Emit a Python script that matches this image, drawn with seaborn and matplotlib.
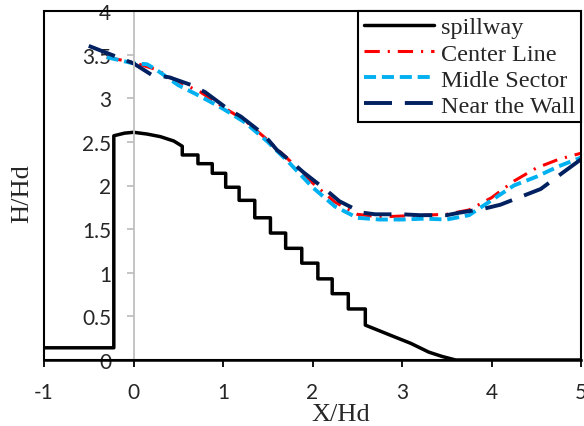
import numpy as np
import pandas as pd
import matplotlib
matplotlib.use("Agg")
import matplotlib.pyplot as plt
import seaborn as sns
from matplotlib.patches import Rectangle

# ---- data ----
spill_x = [-1, -0.22, -0.22, -0.1, 0, 0.15, 0.3, 0.45, 0.545, 0.545, 0.72, 0.72, 0.88, 0.88,
           1.03, 1.03, 1.18, 1.18, 1.355, 1.355, 1.53, 1.53, 1.70, 1.70, 1.88, 1.88, 2.06, 2.06,
           2.22, 2.22, 2.40, 2.40, 2.59, 2.59, 2.88, 3.1, 3.3, 3.45, 3.6, 5.0]
spill_h = [0.14, 0.14, 2.57, 2.60, 2.61, 2.59, 2.56, 2.51, 2.45, 2.35, 2.35, 2.25, 2.25, 2.14,
           2.14, 1.98, 1.98, 1.83, 1.83, 1.63, 1.63, 1.455, 1.455, 1.28, 1.28, 1.11, 1.11, 0.93,
           0.93, 0.76, 0.76, 0.585, 0.585, 0.40, 0.28, 0.19, 0.09, 0.04, 0.0, 0.0]

center_x = [-0.3, 0, 0.25, 0.5, 0.75, 1.0, 1.25, 1.5, 1.75, 2.0, 2.25, 2.5, 2.75, 3.0, 3.25,
            3.5, 3.75, 4.0, 4.25, 4.5, 4.75, 5.0]
center_h = [3.47, 3.41, 3.33, 3.19, 3.07, 2.90, 2.74, 2.52, 2.28, 2.03, 1.81, 1.67, 1.64, 1.65,
            1.66, 1.67, 1.72, 1.86, 2.05, 2.20, 2.30, 2.37]

midle_x = [-0.3, 0, 0.15, 0.25, 0.5, 0.75, 1.0, 1.25, 1.5, 1.75, 2.0, 2.25, 2.5, 2.75, 3.0,
           3.25, 3.5, 3.75, 4.0, 4.25, 4.5, 4.75, 5.0]
midle_h = [3.47, 3.40, 3.39, 3.33, 3.15, 3.02, 2.88, 2.72, 2.50, 2.25, 1.98, 1.76, 1.63, 1.61,
           1.61, 1.62, 1.61, 1.66, 1.83, 2.00, 2.10, 2.22, 2.32]

wall_x = [-0.5, -0.25, 0, 0.2, 0.4, 0.65, 0.8, 1.05, 1.2, 1.45, 1.6, 1.8, 1.9, 2.15, 2.3, 2.55,
          2.7, 3.0, 3.2, 3.5, 3.65, 3.9, 4.1, 4.4, 4.55, 4.8, 5.0]
wall_h = [3.60, 3.50, 3.40, 3.27, 3.24, 3.15, 3.07, 2.88, 2.79, 2.59, 2.41, 2.24, 2.15, 1.95,
          1.82, 1.69, 1.67, 1.67, 1.66, 1.66, 1.69, 1.73, 1.78, 1.90, 1.96, 2.15, 2.30]

x_ticks = [-1, 0, 1, 2, 3, 4, 5]
y_ticks = [0, 0.5, 1, 1.5, 2, 2.5, 3, 3.5, 4]
y_tick_labels = ["0", "0.5", "1", "1.5", "2", "2.5", "3", "3.5", "4"]

# ---- style ----
sns.set_style("white")
plt.rcParams['font.family'] = ['Lato', 'DejaVu Sans']

fig = plt.figure(figsize=(5.84, 4.27), dpi=100)
ax = fig.add_axes([44/584, 1 - 361/427, (581-44)/584, (361-12)/427])

sns.lineplot(x=spill_x, y=spill_h, ax=ax, estimator=None, sort=False, color='black',
             linewidth=2.5, label='spillway')
sns.lineplot(x=center_x, y=center_h, ax=ax, estimator=None, sort=False, color='#FF0000',
             linewidth=2.2, label='Center Line', linestyle=(0, (5.0, 2.6, 0.7, 2.6)))
sns.lineplot(x=midle_x, y=midle_h, ax=ax, estimator=None, sort=False, color='#00B0F0',
             linewidth=2.8, label='Midle Sector', linestyle=(0, (3.1, 1.5)))
sns.lineplot(x=wall_x, y=wall_h, ax=ax, estimator=None, sort=False, color='#002060',
             linewidth=2.8, label='Near the Wall', linestyle=(0, (7.2, 3.3)))

ax.set_xlim(-1, 5)
ax.set_ylim(0, 4)
ax.set_xticks(x_ticks)
ax.set_xticklabels([str(t) for t in x_ticks])
ax.set_yticks(y_ticks)
ax.set_yticklabels(y_tick_labels)

for s in ['top', 'right']:
    ax.spines[s].set_visible(False)
ax.spines['left'].set_position(('data', 0))
ax.spines['left'].set_color('#BFBFBF')
ax.spines['left'].set_linewidth(1.3)
ax.spines['bottom'].set_color('black')
ax.spines['bottom'].set_linewidth(1.8)
ax.spines['bottom'].set_zorder(5)

ax.add_patch(Rectangle((0, 0), 1, 1, transform=ax.transAxes, fill=False,
                       edgecolor='black', linewidth=1.5, clip_on=False, zorder=6))

ax.tick_params(axis='x', direction='out', length=5, width=1.3, color='black',
               labelsize=15, pad=11, bottom=True)
ax.tick_params(axis='y', direction='out', length=5, width=1.3, color='#BFBFBF',
               labelsize=15, pad=11, left=True)

ax.set_xlabel('')
ax.set_ylabel('')
fig.text(341/584, 1 - 415/427, 'X/Hd', family='Liberation Serif', fontsize=19,
         ha='center', va='center')
fig.text(22/584, 1 - 194/427, 'H/Hd', family='Liberation Serif', fontsize=19,
         ha='center', va='center', rotation=90)

leg = ax.legend(loc='upper right', bbox_to_anchor=(1.0, 1.0), borderaxespad=0,
                prop={'family': 'Liberation Serif', 'size': 17.5}, frameon=True,
                fancybox=False, edgecolor='black', framealpha=1,
                handlelength=2.9, handletextpad=0.3, labelspacing=0.17,
                borderpad=0.22)
leg.get_frame().set_linewidth(1.5)
leg.set_zorder(10)

fig.savefig('out.png', dpi=100, facecolor='white')
